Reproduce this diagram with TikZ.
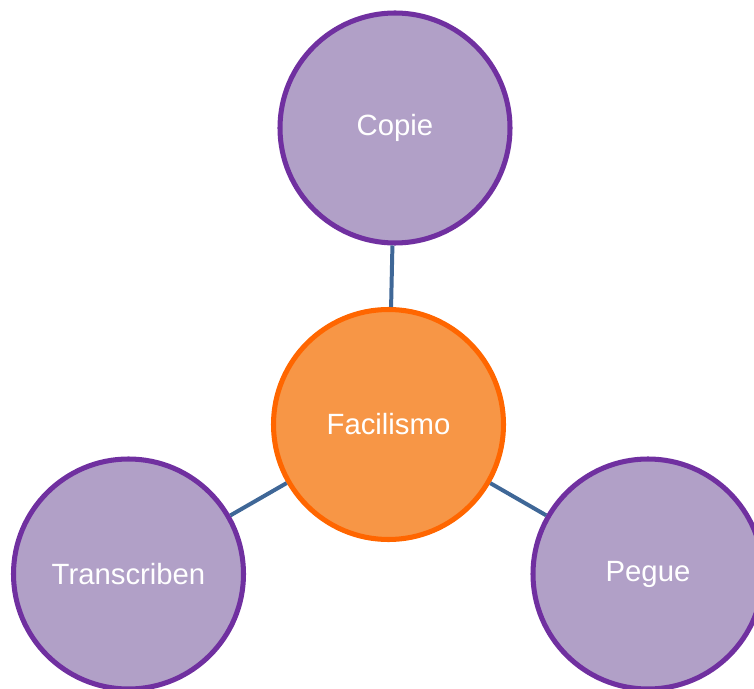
\documentclass[tikz,border=0pt]{standalone}
\usepackage{fontspec}
\setmainfont{Liberation Sans}
\usepackage{xcolor}
\definecolor{ideaPurple}{HTML}{7030A0}
\definecolor{ideaLilac}{HTML}{B1A0C7}
\definecolor{coreOrange}{HTML}{FF6600}
\definecolor{coreFill}{HTML}{F79646}
\definecolor{linkBlue}{HTML}{3F6797}

\begin{document}
\begin{tikzpicture}[x=0.03cm,y=0.03cm]
  \tikzset{
    bubble/.style={circle,minimum size=6.9cm,inner sep=0pt,line width=4.3pt,draw=ideaPurple,fill=ideaLilac,text=white,font=\fontsize{25}{30}\selectfont},
    core/.style={bubble,draw=coreOrange,fill=coreFill},
    link/.style={draw=linkBlue,line width=3.4pt}
  }
  \useasboundingbox (0,0) rectangle (754,688);
  \clip (0,0) rectangle (754,688);

  \node[core] (facil) at (388.5,263.5) {Facilismo};
  \node[bubble] (copie) at (395,560) {Copie};
  \node[bubble] (trans) at (128.5,114) {Transcriben};
  \node[bubble] (pegue) at (648,114) {Pegue};

  \draw[link] (facil) -- (copie);
  \draw[link] (facil) -- (trans);
  \draw[link] (facil) -- (pegue);
\end{tikzpicture}
\end{document}
